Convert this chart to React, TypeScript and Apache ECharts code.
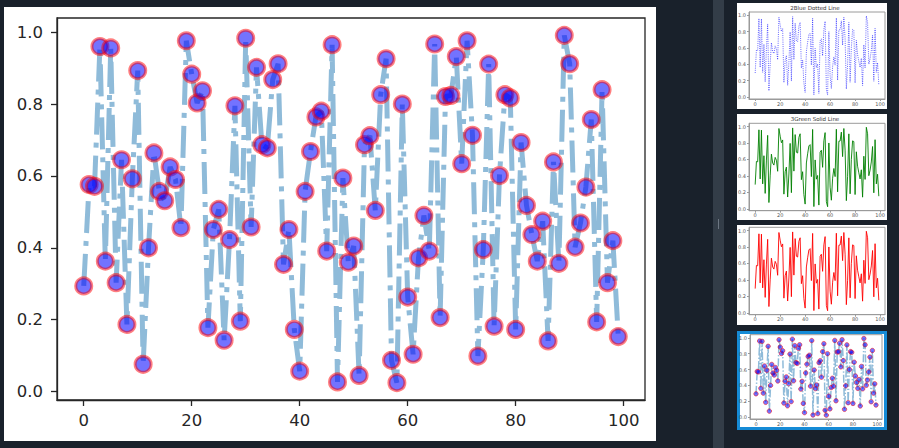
import React, { useEffect, useRef } from "react";
import * as echarts from "echarts";

// ---- data ----
const values = [
  0.294, 0.576, 0.571, 0.960, 0.363, 0.956, 0.303, 0.645, 0.187, 0.592,
  0.893, 0.076, 0.400, 0.664, 0.557, 0.531, 0.625, 0.590, 0.456, 0.976,
  0.883, 0.803, 0.837, 0.178, 0.451, 0.507, 0.143, 0.423, 0.795, 0.196,
  0.983, 0.458, 0.902, 0.687, 0.678, 0.868, 0.912, 0.354, 0.451, 0.173,
  0.057, 0.557, 0.668, 0.764, 0.780, 0.391, 0.965, 0.027, 0.594, 0.360,
  0.405, 0.045, 0.687, 0.712, 0.504, 0.826, 0.926, 0.087, 0.025, 0.800,
  0.263, 0.104, 0.372, 0.490, 0.391, 0.967, 0.206, 0.821, 0.824, 0.932,
  0.634, 0.976, 0.713, 0.099, 0.395, 0.911, 0.182, 0.601, 0.826, 0.817,
  0.173, 0.693, 0.518, 0.437, 0.363, 0.474, 0.141, 0.639, 0.357, 0.991,
  0.912, 0.402, 0.469, 0.569, 0.757, 0.194, 0.840, 0.303, 0.420, 0.153,
];
const xTicks = [0, 20, 40, 60, 80, 100];
const yTicks = [0.0, 0.2, 0.4, 0.6, 0.8, 1.0];
const thumbTitles = ["2Blue Dotted Line", "3Green Solid Line"];

const FONT = "DejaVu Sans";

// matplotlib-style 5% margins
const xMin = -0.05 * (values.length - 1);
const xMax = values.length - 1 + 0.05 * (values.length - 1);
const dMin = Math.min(...values);
const dMax = Math.max(...values);
const yMin = dMin - 0.05 * (dMax - dMin);
const yMax = dMax + 0.05 * (dMax - dMin);

const points = values.map((v, i) => [i, v]);

type AxisStyle = {
  fontSize: number;
  color: string;
  lineColor: string;
  lineWidth: number;
  tickLen: number;
  xMargin: number;
  yMargin: number;
};

function makeAxes(gridIndex: number, s: AxisStyle) {
  const common = {
    gridIndex,
    type: "value" as const,
    splitLine: { show: false },
    axisLine: { show: true, onZero: false, lineStyle: { color: s.lineColor, width: s.lineWidth } },
  };
  const x = {
    ...common,
    min: xMin,
    max: xMax,
    axisTick: { show: true, customValues: xTicks, length: s.tickLen, lineStyle: { color: s.lineColor, width: s.lineWidth } },
    axisLabel: {
      customValues: xTicks,
      fontSize: s.fontSize,
      color: s.color,
      fontFamily: FONT,
      margin: s.xMargin,
      formatter: (v: number) => String(Math.round(v)),
    },
  };
  const y = {
    ...common,
    min: yMin,
    max: yMax,
    axisTick: { show: true, customValues: yTicks, length: s.tickLen, lineStyle: { color: s.lineColor, width: s.lineWidth } },
    axisLabel: {
      customValues: yTicks,
      fontSize: s.fontSize,
      color: s.color,
      fontFamily: FONT,
      margin: s.yMargin,
      formatter: (v: number) => v.toFixed(1),
    },
  };
  return { x, y };
}

const mainStyle: AxisStyle = {
  fontSize: 16.5,
  color: "#262626",
  lineColor: "#262626",
  lineWidth: 1.3,
  tickLen: 6,
  xMargin: 12,
  yMargin: 14,
};
const thumbStyle: AxisStyle = {
  fontSize: 5,
  color: "#555555",
  lineColor: "#9a9a9a",
  lineWidth: 1,
  tickLen: 2,
  xMargin: 2,
  yMargin: 3,
};

const grids = [
  { left: 57, top: 18, width: 588, height: 382 },
  { left: 749, top: 12, width: 136, height: 87 },
  { left: 749, top: 123.3, width: 136, height: 87.4 },
  { left: 749, top: 227.3, width: 136, height: 87.4 },
  { left: 750, top: 334.7, width: 132, height: 84.3 },
];

function buildOption() {
  const xAxes: any[] = [];
  const yAxes: any[] = [];
  grids.forEach((_, i) => {
    const a = makeAxes(i, i === 0 ? mainStyle : thumbStyle);
    xAxes.push(a.x);
    yAxes.push(a.y);
  });

  const series: any[] = [
    {
      type: "line",
      xAxisIndex: 0,
      yAxisIndex: 0,
      data: points,
      symbol: "circle",
      symbolSize: 16,
      showSymbol: true,
      showAllSymbol: true,
      lineStyle: { color: "rgba(31,119,180,0.5)", width: 5, type: [32, 8, 5, 8] },
      itemStyle: { color: "rgba(0,0,255,0.55)", borderColor: "rgba(255,0,0,0.5)", borderWidth: 3 },
      emphasis: { disabled: true },
      z: 3,
    },
    {
      type: "line",
      xAxisIndex: 1,
      yAxisIndex: 1,
      data: points,
      symbol: "none",
      lineStyle: { color: "rgba(0,0,255,0.75)", width: 0.8, type: [1, 1.2] },
      emphasis: { disabled: true },
      z: 3,
    },
    {
      type: "line",
      xAxisIndex: 2,
      yAxisIndex: 2,
      data: points,
      symbol: "none",
      lineStyle: { color: "#008000", width: 0.9 },
      emphasis: { disabled: true },
      z: 3,
    },
    {
      type: "line",
      xAxisIndex: 3,
      yAxisIndex: 3,
      data: points,
      symbol: "none",
      lineStyle: { color: "#ff0000", width: 0.9 },
      emphasis: { disabled: true },
      z: 3,
    },
    {
      type: "line",
      xAxisIndex: 4,
      yAxisIndex: 4,
      data: points,
      symbol: "circle",
      symbolSize: 4.5,
      showSymbol: true,
      showAllSymbol: true,
      lineStyle: { color: "rgba(31,119,180,0.5)", width: 1.5, type: [8, 2, 1.3, 2] },
      itemStyle: { color: "rgba(0,0,255,0.55)", borderColor: "rgba(255,0,0,0.5)", borderWidth: 1 },
      emphasis: { disabled: true },
      z: 3,
    },
  ];

  const graphic: any[] = [
    // main white panel
    { type: "rect", z: -10, shape: { x: 4, y: 7, width: 652, height: 434 }, style: { fill: "#ffffff" } },
    // splitter
    { type: "rect", z: -10, shape: { x: 713, y: 0, width: 11, height: 448 }, style: { fill: "#333d48" } },
    { type: "line", z: -9, shape: { x1: 718.5, y1: 219, x2: 718.5, y2: 229 }, style: { stroke: "#6c7682", lineWidth: 1 } },
    // thumbnails
    { type: "rect", z: -10, shape: { x: 737, y: 3, width: 150, height: 106 }, style: { fill: "#ffffff" } },
    { type: "rect", z: -10, shape: { x: 737, y: 114, width: 150, height: 106 }, style: { fill: "#ffffff" } },
    { type: "rect", z: -10, shape: { x: 737, y: 225, width: 150, height: 100 }, style: { fill: "#ffffff" } },
    {
      type: "rect",
      z: -10,
      shape: { x: 738.5, y: 332.5, width: 147, height: 96 },
      style: { fill: "#ffffff", stroke: "#168bd6", lineWidth: 3 },
    },
    {
      type: "text",
      z: 5,
      x: 815,
      y: 7.5,
      style: {
        text: thumbTitles[0],
        fontSize: 5.5,
        fontFamily: FONT,
        fill: "#333333",
        align: "center",
        verticalAlign: "middle",
        textAlign: "center",
        textVerticalAlign: "middle",
      },
    },
    {
      type: "text",
      z: 5,
      x: 815,
      y: 119,
      style: {
        text: thumbTitles[1],
        fontSize: 5.5,
        fontFamily: FONT,
        fill: "#333333",
        align: "center",
        verticalAlign: "middle",
        textAlign: "center",
        textVerticalAlign: "middle",
      },
    },
  ];

  return {
    animation: false,
    backgroundColor: "#19212b",
    textStyle: { fontFamily: FONT },
    grid: grids.map((g, i) => ({
      ...g,
      show: true,
      backgroundColor: "transparent",
      borderColor: i === 0 ? mainStyle.lineColor : thumbStyle.lineColor,
      borderWidth: i === 0 ? mainStyle.lineWidth : thumbStyle.lineWidth,
      containLabel: false,
      outerBoundsMode: "none",
    })),
    xAxis: xAxes,
    yAxis: yAxes,
    series,
    graphic,
  };
}

export default function App() {
  const ref = useRef<HTMLDivElement>(null);
  useEffect(() => {
    if (!ref.current) return;
    const chart = echarts.init(ref.current, null, { renderer: "svg" });
    chart.setOption(buildOption() as any);
    return () => {
      chart.dispose();
    };
  }, []);
  return (
    <div
      ref={ref}
      style={{ position: "fixed", left: 0, top: 0, width: 899, height: 448 }}
    />
  );
}
